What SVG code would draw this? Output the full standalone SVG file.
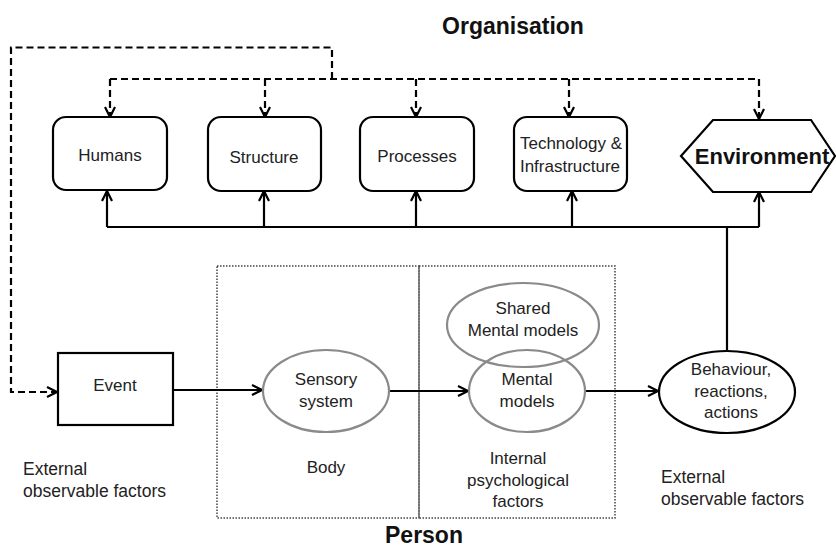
<svg xmlns="http://www.w3.org/2000/svg" width="836" height="548" viewBox="0 0 836 548">
<style>
text{font-family:"Liberation Sans",Arial,sans-serif;font-size:17px;fill:#222;text-anchor:middle}
.b{font-weight:bold;fill:#111}
.l{text-anchor:start}
.node{fill:#fff;stroke:#000;stroke-width:2.2}
.gray{fill:none;stroke:#8a8a8a;stroke-width:2.2}
.line{fill:none;stroke:#000;stroke-width:2.2}
.dash{fill:none;stroke:#000;stroke-width:2.2;stroke-dasharray:7 4}
.dot{fill:none;stroke:#444;stroke-width:1.5;stroke-dasharray:1.5 1.5}
</style>
<defs>
<marker id="ah" viewBox="0 0 12 12" refX="11" refY="6" markerWidth="12" markerHeight="12" markerUnits="userSpaceOnUse" orient="auto">
<path d="M1,1 L11,6 L1,11" fill="none" stroke="#000" stroke-width="2.2"/>
</marker>
</defs>
<rect width="836" height="548" fill="#fff"/>
<g id="person-boxes">
<rect class="dot" x="217" y="266" width="202" height="252"/>
<rect class="dot" x="419" y="266" width="196" height="252"/>
</g>
<g id="connectors">
<path class="dash" d="M332,79 V47.5 H11 V392 H57" marker-end="url(#ah)"/>
<path class="dash" d="M110,79 H759"/>
<path class="dash" d="M110,79 V117" marker-end="url(#ah)"/>
<path class="dash" d="M265,79 V117" marker-end="url(#ah)"/>
<path class="dash" d="M416,79 V117" marker-end="url(#ah)"/>
<path class="dash" d="M569,79 V117" marker-end="url(#ah)"/>
<path class="dash" d="M759,79 V119" marker-end="url(#ah)"/>
<path class="line" d="M107,227 H759"/>
<path class="line" d="M107,227 V191" marker-end="url(#ah)"/>
<path class="line" d="M264,227 V191" marker-end="url(#ah)"/>
<path class="line" d="M416,227 V191" marker-end="url(#ah)"/>
<path class="line" d="M572,227 V191" marker-end="url(#ah)"/>
<path class="line" d="M759,227 V192" marker-end="url(#ah)"/>
<path class="line" d="M727,227 V352"/>
<path class="line" d="M173,390 H262" marker-end="url(#ah)"/>
<path class="line" d="M389,391 H468" marker-end="url(#ah)"/>
<path class="line" d="M585,391 H658" marker-end="url(#ah)"/>
</g>
<g id="humans"><rect class="node" x="53" y="117" width="114" height="73" rx="13"/><text x="110" y="161">Humans</text></g>
<g id="structure"><rect class="node" x="208" y="117" width="113" height="74" rx="13"/><text x="264" y="163">Structure</text></g>
<g id="processes"><rect class="node" x="360" y="117" width="114" height="74" rx="13"/><text x="417" y="162">Processes</text></g>
<g id="technology"><rect class="node" x="514" y="117" width="113" height="74" rx="13"/><text x="571" y="149">Technology &amp;</text><text x="570" y="172">Infrastructure</text></g>
<g id="environment"><polygon class="node" points="681,156 713,120 811,120 835,156 811,192 713,192"/><text class="b" x="762" y="164" style="font-size:22px">Environment</text></g>
<g id="event"><rect class="node" x="58" y="353" width="115" height="72"/><text x="115" y="391">Event</text></g>
<g id="sensory"><ellipse class="gray" cx="326" cy="391" rx="63" ry="41"/><text x="326" y="385">Sensory</text><text x="326" y="407">system</text></g>
<g id="shared"><ellipse class="gray" cx="523" cy="325" rx="76" ry="42"/><text x="523" y="314">Shared</text><text x="523" y="336">Mental models</text></g>
<g id="mental"><ellipse class="gray" cx="527" cy="391" rx="58" ry="41"/><text x="527" y="385">Mental</text><text x="527" y="407">models</text></g>
<g id="behaviour"><ellipse class="node" cx="727" cy="392" rx="68" ry="41"/><text x="731" y="375">Behaviour,</text><text x="731" y="397">reactions,</text><text x="731" y="418">actions</text></g>
<g id="labels">
<text class="b" x="513" y="34" style="font-size:23px">Organisation</text>
<text class="b" x="424" y="543" style="font-size:23px">Person</text>
<text x="326" y="473">Body</text>
<text class="l" x="23" y="475" style="font-size:17.5px">External</text>
<text class="l" x="23" y="497" style="font-size:17.5px">observable factors</text>
<text x="518" y="464">Internal</text>
<text x="518" y="486">psychological</text>
<text x="518" y="507">factors</text>
<text class="l" x="661" y="483" style="font-size:17.5px">External</text>
<text class="l" x="661" y="505" style="font-size:17.5px">observable factors</text>
</g>
</svg>
